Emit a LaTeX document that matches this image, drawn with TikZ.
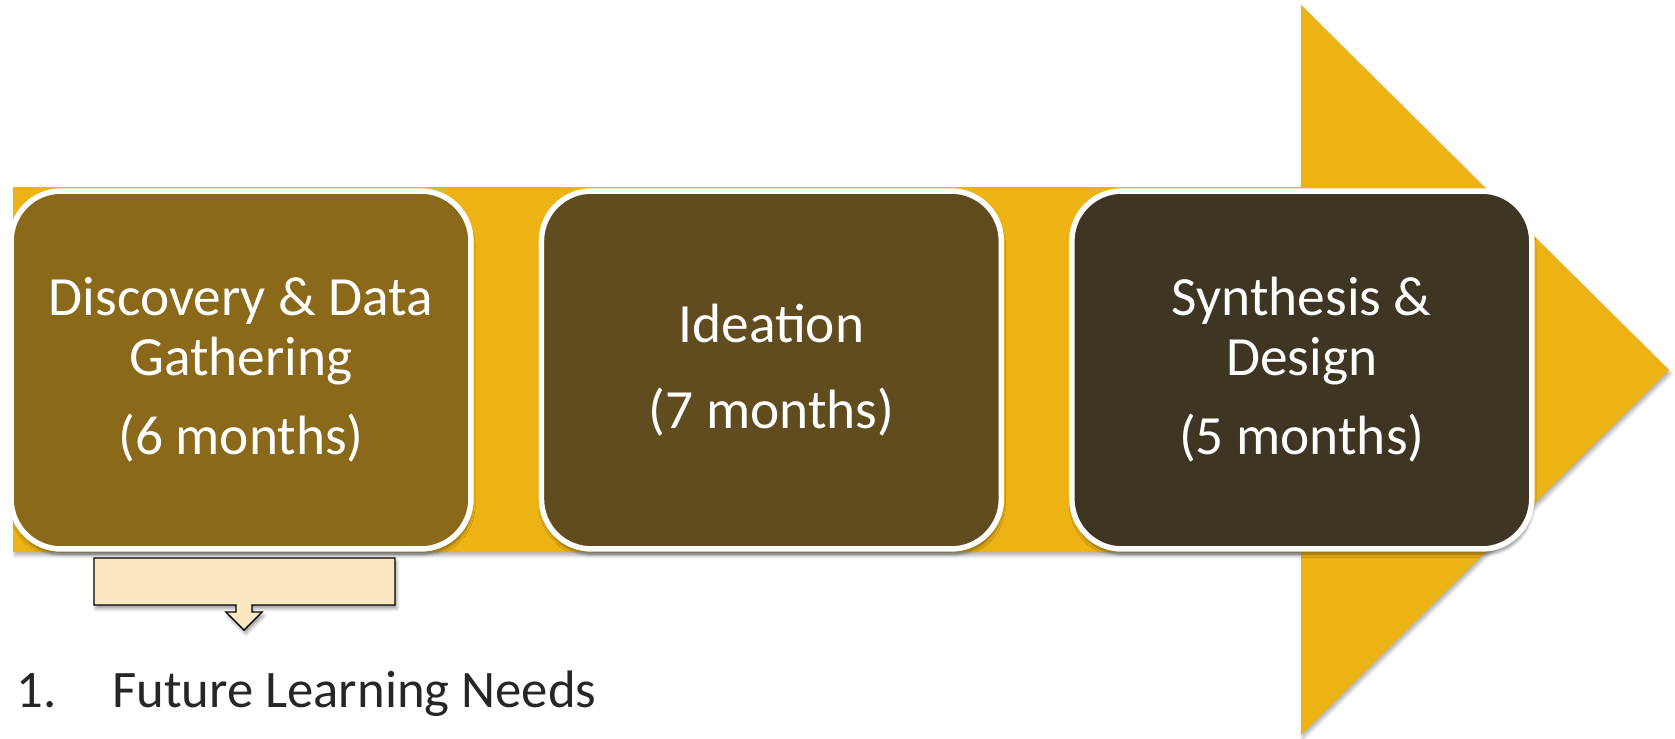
\documentclass[tikz,border=0pt]{standalone}
\usepackage{fontspec}
\setmainfont{Carlito}
\usepackage{tikz}
\usetikzlibrary{arrows,positioning,backgrounds,shadows,shadows.blur}
\definecolor{bandgold}{RGB}{237,178,19}
\definecolor{phaseone}{RGB}{138,106,26}
\definecolor{phasetwo}{RGB}{96,76,30}
\definecolor{phasethree}{RGB}{62,53,34}
\definecolor{notecream}{RGB}{250,233,192}
\definecolor{textgray}{RGB}{38,38,38}
\tikzset{
    %Define style for the phase boxes
    phase/.style={
           rectangle,
           rounded corners=1cm,
           draw=white, line width=0.11cm,
           minimum width=9.2cm,
           minimum height=7.16cm,
           font=\fontsize{31.5}{34}\selectfont,
           text=white,
           align=center,
           blur shadow={shadow xshift=0.5pt, shadow yshift=-3pt,
                        shadow blur steps=6, shadow opacity=45}},
    %Define style for the big arrow
    band/.style={
           fill=bandgold,
           blur shadow={shadow xshift=1pt, shadow yshift=-2pt,
                        shadow blur steps=4, shadow opacity=30}},
    %Define style for the small callout
    note/.style={
           fill=notecream,
           draw=black, line width=0.8pt,
           line join=miter,
           blur shadow={shadow xshift=1pt, shadow yshift=-2pt,
                        shadow blur steps=4, shadow opacity=40}}
}
\begin{document}
\begin{tikzpicture}[x=0.02cm, y=-0.02cm, node distance=1.3cm]
\useasboundingbox (0,0) rectangle (1675,738);
% big arrow behind the phases
\path[band] (13,187) -- (1301,187) -- (1301,5) -- (1669,370)
    -- (1301,735) -- (1301,552) -- (13,552) -- cycle;
\node[phase, fill=phaseone] (1) at (241,370)
    {Discovery \& Data\\Gathering\\[11pt](6 months)};
\node[phase, fill=phasetwo, right=of 1] (2) {Ideation\\[15pt](7 months)};
\node[phase, fill=phasethree, right=of 2] (3)
    {Synthesis \&\\Design\\[11pt](5 months)};
% callout under the first phase
\path[note] (94,558) -- (395,558) -- (395,605) -- (252,605) -- (252,612)
    -- (262,612) -- (244,630) -- (226,612) -- (236,612) -- (236,605)
    -- (94,605) -- cycle;
\node[anchor=base west, inner sep=0pt, text=textgray,
      font=\fontsize{30}{36}\selectfont] (4) at (16,707)
    {\makebox[1.92cm][l]{1.}Future Learning Needs};
\end{tikzpicture}
\end{document}
